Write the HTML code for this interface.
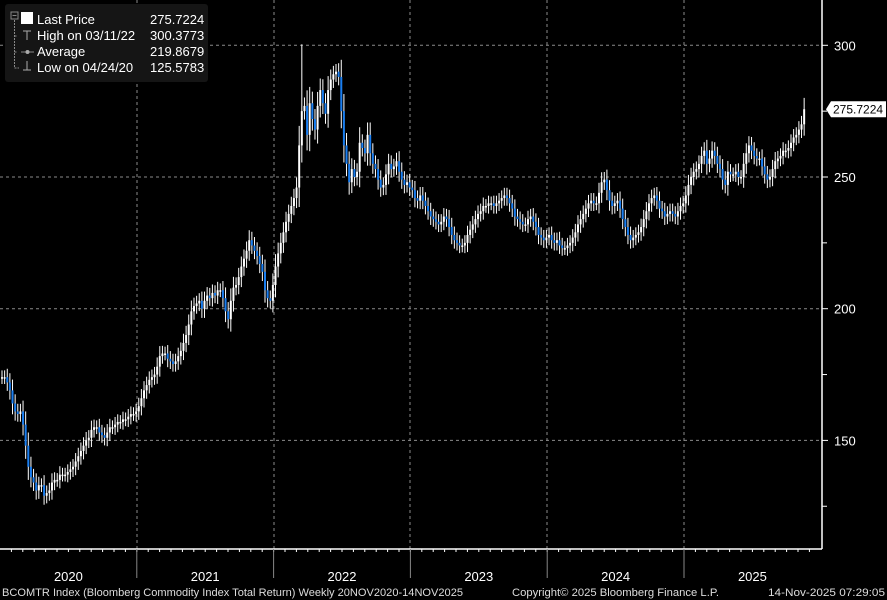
<!DOCTYPE html>
<html><head><meta charset="utf-8"><style>
html,body{margin:0;padding:0;background:#000;}
svg{display:block;font-family:"Liberation Sans",sans-serif;}
</style></head><body>
<svg id="chart" width="887" height="600" viewBox="0 0 887 600" xmlns="http://www.w3.org/2000/svg">
<rect width="887" height="600" fill="#000"/>
<g id="grid"></g>
<g id="candles"></g>
<g id="axes"></g>
<g>
<rect x="5" y="4" width="203" height="78" rx="3" fill="#151515"/>
<rect x="11" y="12" width="7" height="7" fill="none" stroke="#888" stroke-width="1"/>
<line x1="12.5" y1="15.5" x2="16.5" y2="15.5" stroke="#888"/>
<path d="M14.5 20 V68 H19 M14.5 36 H17 M14.5 52 H17" stroke="#888" fill="none" stroke-dasharray="2,1"/>
<rect x="21" y="12" width="12" height="12" fill="#fff"/>
<path d="M23 31 H31 M27 31 V40" stroke="#aaa" fill="none"/>
<path d="M21 52 H34" stroke="#888"/><circle cx="27.5" cy="52" r="2" fill="#aaa"/>
<path d="M27 61 V70 M23 70 H31" stroke="#aaa" fill="none"/>
<text x="37" y="24" fill="#fff" font-size="13">Last Price</text>
<text x="150" y="24" fill="#fff" font-size="13">275.7224</text>
<text x="37" y="40" fill="#fff" font-size="13">High on 03/11/22</text>
<text x="150" y="40" fill="#fff" font-size="13">300.3773</text>
<text x="37" y="56" fill="#fff" font-size="13">Average</text>
<text x="150" y="56" fill="#fff" font-size="13">219.8679</text>
<text x="37" y="72" fill="#fff" font-size="13">Low on 04/24/20</text>
<text x="150" y="72" fill="#fff" font-size="13">125.5783</text>
</g>
<g>
<text x="2" y="596" fill="#ddd" font-size="11" textLength="461" lengthAdjust="spacingAndGlyphs">BCOMTR Index (Bloomberg Commodity Index Total Return) Weekly 20NOV2020-14NOV2025</text>
<text x="512" y="596" fill="#ddd" font-size="11" textLength="207" lengthAdjust="spacingAndGlyphs">Copyright© 2025 Bloomberg Finance L.P.</text>
<text x="768" y="596" fill="#ddd" font-size="11" textLength="117" lengthAdjust="spacingAndGlyphs">14-Nov-2025 07:29:05</text>
</g>
</svg>
<script>
const closes = [174,174,172,169,164,161,160,161,156,148,140,136,134,131,133,133,129,130,131,134,
135,135,137,137,137,138,139,140,142,144,146,148,150,151,154,155,155,153,152,151,
153,155,155,156,157,157,158,158,159,160,160,161,163,166,169,171,173,174,175,178,
182,183,183,181,180,179,180,182,184,187,190,194,199,201,202,203,200,203,205,204,
206,205,207,207,204,199,196,203,208,209,212,216,219,222,226,224,222,220,217,214,
207,204,203,209,216,221,225,229,233,236,239,242,246,262,275,277,266,278,272,268,
277,283,278,274,283,287,289,290,288,275,262,255,248,253,250,252,263,261,259,266,
259,255,253,249,246,247,251,255,253,254,256,252,249,247,248,246,245,242,241,243,
241,239,237,235,234,233,232,233,235,234,231,228,226,225,224,224,225,228,230,232,
234,236,237,239,239,240,240,239,240,241,242,243,242,240,238,235,234,233,232,232,
234,235,233,231,228,227,226,227,228,226,225,226,224,223,223,224,225,227,229,232,
234,236,238,240,241,240,240,244,248,249,245,241,239,240,241,238,234,231,228,226,
227,228,229,231,234,237,240,242,243,241,238,237,235,236,237,236,235,237,239,240,
243,247,250,252,253,255,258,260,255,257,260,258,255,253,249,247,252,251,251,252,
250,250,255,259,262,260,258,257,257,254,251,249,250,253,256,257,258,260,260,261,
263,265,266,268,270,275.7224];
const highIdx = [114, 16];
const highLowValues = [300.3773, 125.5783];
const yTicks = [300, 250, 200, 150];
const yMinorTicks = [275, 225, 175, 125];
const years = ["2020","2021","2022","2023","2024","2025"];
const lastPrice = 275.7224;

const NS = "http://www.w3.org/2000/svg";
const plotRight = 822, axisY = 549, yearW = 136.8;
function y(v){ return 177 - (v - 250) * 2.634; }
function x(i){ return 2 + i * 2.63; }
function mk(tag, attrs, parent){ const e = document.createElementNS(NS, tag); for (const k in attrs) e.setAttribute(k, attrs[k]); parent.appendChild(e); return e; }

const grid = document.getElementById('grid');
yTicks.forEach(v => {
  const l = mk('line', {x1:0, x2:plotRight, y1:y(v), y2:y(v), stroke:'#8a8a8a', 'stroke-dasharray':'3,3'}, grid);
  
  
});
for (let k = 1; k < years.length; k++) {
  const gx = Math.round(k * yearW);
  const l = mk('line', {x1:gx, x2:gx, y1:0, y2:axisY, stroke:'#8a8a8a', 'stroke-dasharray':'3,3'}, grid);
  
  
}

const cg = document.getElementById('candles');
closes.forEach((c, i) => {
  const o = i === 0 ? c : closes[i - 1];
  const rng = Math.abs(c - o);
  let hi = Math.max(o, c) + 2.6 + rng * 0.3, lo = Math.min(o, c) - 2.6 - rng * 0.3;
  const h = highIdx.indexOf(i);
  if (h === 0) hi = highLowValues[0];
  if (h === 1) lo = highLowValues[1];
  const cx = x(i);
  const w = mk('line', {x1:cx, x2:cx, y1:y(hi), y2:y(lo), stroke:'#fff', 'stroke-width':1}, cg);
  
  
  const top = y(Math.max(o, c)), bh = Math.max(1.5, y(Math.min(o, c)) - top);
  const up = c >= o;
  const b = mk('rect', {x:cx - 1, y:top, width:2, height:bh, fill: up ? '#fff' : '#1a7ef0'}, cg);
  
  
});

const ax = document.getElementById('axes');
const ra = mk('line', {x1:plotRight, x2:plotRight, y1:0, y2:axisY, stroke:'#fff', 'stroke-width':1.5}, ax);


const ba = mk('line', {x1:0, x2:plotRight, y1:axisY, y2:axisY, stroke:'#fff', 'stroke-width':1.5}, ax);


yTicks.forEach(v => {
  mk('line', {x1:plotRight, x2:plotRight + 6, y1:y(v), y2:y(v), stroke:'#fff'}, ax);
  const t = mk('text', {x:834, y:y(v) + 5, fill:'#fff', 'font-size':13}, ax);
  t.textContent = v;
  
  
});
yMinorTicks.forEach(v => { mk('line', {x1:plotRight, x2:plotRight + 5, y1:y(v), y2:y(v), stroke:'#fff'}, ax); });
for (let m = 1; m < years.length * 12; m++) {
  const mx = m * yearW / 12;
  if (mx > plotRight) break;
  mk('line', {x1:mx, x2:mx, y1:axisY, y2:axisY + 3, stroke:'#fff'}, ax);
}
years.forEach((yr, k) => {
  if (k > 0) { mk('line', {x1:k * yearW, x2:k * yearW, y1:axisY, y2:578, stroke:'#888'}, ax); }
  const t = mk('text', {x:(k + 0.5) * yearW, y:581, fill:'#fff', 'font-size':13, 'text-anchor':'middle'}, ax);
  t.textContent = yr;
  
  
});
const ly = y(lastPrice);
const tag = mk('path', {d:`M826 ${ly} L831 ${ly-8} H886 V${ly+8} H831 Z`, fill:'#fff'}, ax);


const lt = mk('text', {x:833, y:ly + 4.5, fill:'#000', 'font-size':12}, ax);
lt.textContent = lastPrice.toFixed(4);


</script>
</body></html>
